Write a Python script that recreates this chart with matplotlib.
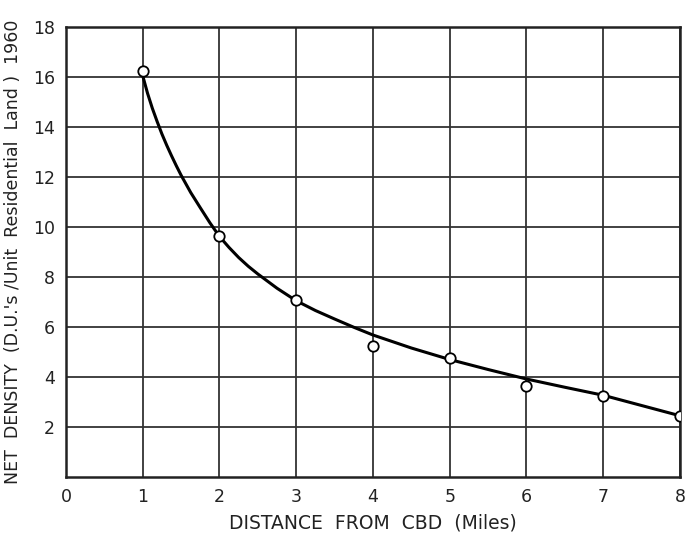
import numpy as np
import matplotlib
matplotlib.use("Agg")
import matplotlib.pyplot as plt

distance = [1, 2, 3, 4, 5, 6, 7, 8]
density = [16.24, 9.64, 7.08, 5.25, 4.75, 3.65, 3.24, 2.45]

# hand-drawn fitted curve, read at several distances
curve_x = [1.0, 1.0625, 1.125, 1.1875, 1.25, 1.3125, 1.375, 1.4375, 1.5, 1.625, 1.75, 1.875,
           2.0, 2.125, 2.25, 2.375, 2.5, 2.75, 3.0, 3.25, 3.5, 3.75, 4.0, 4.5, 5.0, 5.5, 6.0,
           6.5, 7.0, 7.5, 8.0]
curve_y = [16.05, 15.35, 14.75, 14.22, 13.72, 13.27, 12.85, 12.45, 12.07, 11.38, 10.77, 10.17,
           9.62, 9.18, 8.78, 8.43, 8.12, 7.55, 7.05, 6.66, 6.32, 5.99, 5.68, 5.16, 4.70, 4.30,
           3.92, 3.59, 3.27, 2.86, 2.45]

x_ticks = list(range(0, 9))
y_ticks = list(range(2, 19, 2))

plt.rcParams["font.family"] = ["DejaVu Sans"]

fig = plt.figure(figsize=(6.86, 5.35), dpi=100)
ax = fig.add_axes([0.0962, 0.1084, 0.8950, 0.8411])

ax.plot(curve_x, curve_y, color="black", lw=2.2, zorder=3, solid_capstyle="round")
ax.plot(distance, density, "o", ms=7.5, mfc="white", mec="black", mew=1.3, zorder=4)

ax.set_xlim(0, 8)
ax.set_ylim(0, 18)
ax.set_xticks(x_ticks)
ax.set_yticks(y_ticks)
ax.grid(True, color="#333333", lw=1.3)
ax.set_axisbelow(True)
for s in ax.spines.values():
    s.set_linewidth(1.8)
    s.set_color("#222222")
ax.tick_params(length=0, labelsize=12.5, colors="#222222", pad=8)

ax.set_xlabel("DISTANCE  FROM  CBD  (Miles)", fontsize=13.5, labelpad=5, color="#222222")
ax.set_ylabel("NET  DENSITY  (D.U.'s /Unit  Residential  Land )  1960", fontsize=12.5,
              labelpad=8, color="#222222")

fig.savefig("out.png", dpi=100)
